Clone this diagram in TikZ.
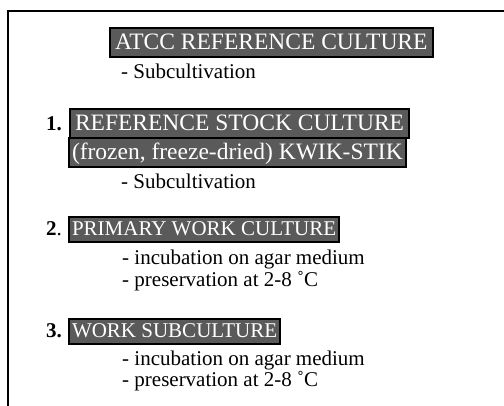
\documentclass[tikz,border=0pt]{standalone}
\usepackage{fontspec}
\setmainfont{Liberation Serif}
\definecolor{boxgray}{RGB}{90,90,90}

\begin{document}
\begin{tikzpicture}[x=1pt, y=-1pt,
	bigbox/.style={fill=boxgray, draw=black, line width=2pt, text=white,
		inner xsep=3pt, inner ysep=1pt, anchor=base west,
		font=\fontsize{23.5}{26}\selectfont, text height=21pt, text depth=6pt},
	smallbox/.style={bigbox, font=\fontsize{21}{24}\selectfont,
		text height=17.5pt, text depth=5pt},
	note/.style={inner sep=0pt, anchor=base west, font=\fontsize{21}{24}\selectfont}]

	\useasboundingbox (0,0) rectangle (504,406);
	\draw[line width=2pt] (8,406) -- (8,11) -- (504,11);

	\draw (109,50) node[bigbox, inner xsep=5pt] (atcc) {ATCC REFERENCE CULTURE};
	\draw (121,79) node[note] (atccSub) {- Subcultivation};

	\draw (46,131) node[note] (numOne) {\textbf{1.}};
	\draw (69,131) node[bigbox, inner xsep=5pt] (stock) {REFERENCE STOCK CULTURE};
	\draw (68,160) node[bigbox] (kwik) {(frozen, freeze-dried) KWIK-STIK};
	\draw (121,189) node[note] (stockSub) {- Subcultivation};

	\draw (46,236) node[note] (numTwo) {\textbf{2}.};
	\draw (68,236) node[smallbox] (primary) {PRIMARY WORK CULTURE};
	\draw (122,265) node[note] (primaryInc) {- incubation on agar medium};
	\draw (122,287) node[note] (primaryKeep) {- preservation at 2-8 ˚C};

	\draw (46,338) node[note] (numThree) {\textbf{3.}};
	\draw (68,338) node[smallbox] (worksub) {WORK SUBCULTURE};
	\draw (122,366) node[note] (worksubInc) {- incubation on agar medium};
	\draw (122,387) node[note] (worksubKeep) {- preservation at 2-8 ˚C};

\end{tikzpicture}
\end{document}
